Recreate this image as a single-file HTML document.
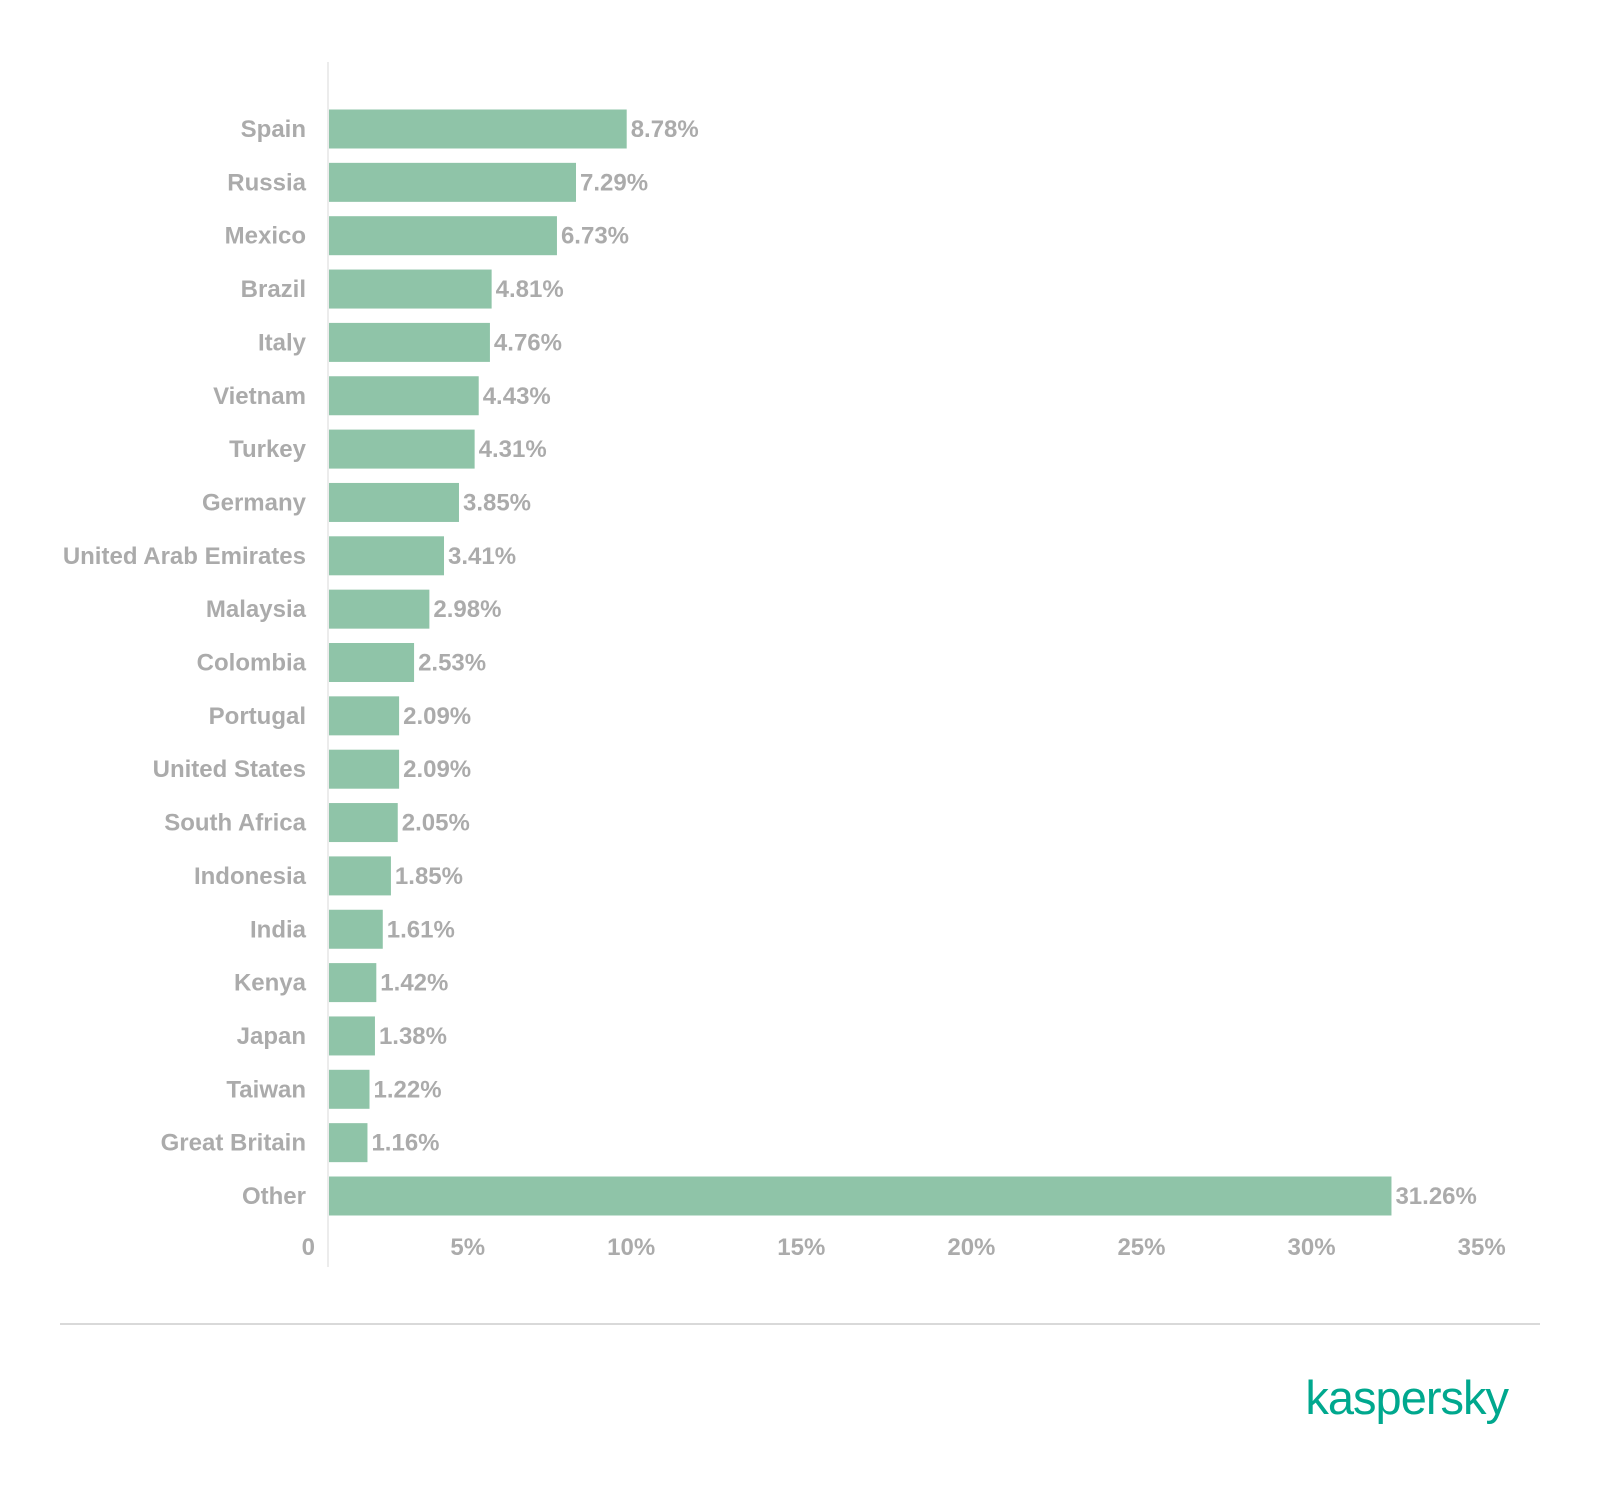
<!DOCTYPE html>
<html><head><meta charset="utf-8"><style>
html,body{margin:0;padding:0;background:#fff;}
svg{display:block;}
text{font-family:"Liberation Sans",sans-serif;}
</style></head><body>
<svg id="chart" width="1600" height="1486" viewBox="0 0 1600 1486" xmlns="http://www.w3.org/2000/svg">
<line x1="328" y1="62" x2="328" y2="1267" stroke="#ececec" stroke-width="2"/>
<g id="bars"></g>
<g id="xticks"></g>
<line x1="60" y1="1324" x2="1540" y2="1324" stroke="#d9d9d9" stroke-width="2"/>
<text x="1508" y="1414" text-anchor="end" font-size="47" fill="#00a88e" letter-spacing="-1">kaspersky</text>
</svg>
<script>
const categories = ["Spain","Russia","Mexico","Brazil","Italy","Vietnam","Turkey","Germany","United Arab Emirates","Malaysia","Colombia","Portugal","United States","South Africa","Indonesia","India","Kenya","Japan","Taiwan","Great Britain","Other"];
const values = [8.78,7.29,6.73,4.81,4.76,4.43,4.31,3.85,3.41,2.98,2.53,2.09,2.09,2.05,1.85,1.61,1.42,1.38,1.22,1.16,31.26];
const valueLabels = ["8.78%","7.29%","6.73%","4.81%","4.76%","4.43%","4.31%","3.85%","3.41%","2.98%","2.53%","2.09%","2.09%","2.05%","1.85%","1.61%","1.42%","1.38%","1.22%","1.16%","31.26%"];
const tickValues = [0,5,10,15,20,25,30,35];
const tickLabels = ["0","5%","10%","15%","20%","25%","30%","35%"];

const NS = "http://www.w3.org/2000/svg";
const x0 = 328, pxPer = 34.02;
function xScale(v){ return x0 + v * pxPer; }
const yFirst = 129, yStep = 53.35, barH = 39;
function yScale(i){ return yFirst + i * yStep; }
function mk(tag, attrs, parent){
  const el = document.createElementNS(NS, tag);
  for (const k in attrs) el.setAttribute(k, attrs[k]);
  parent.appendChild(el);
  return el;
}
const gb = document.getElementById("bars");
categories.forEach((c, i) => {
  const cy = yScale(i);
  const lab = mk("text", {x: 306, y: cy + 8, "text-anchor": "end", "font-size": 24, "font-weight": "bold", fill: "#ababab"}, gb);
  
  
  lab.textContent = c;
  const r = mk("rect", {x: x0 + 1, y: cy - barH / 2, width: xScale(values[i]) - x0 - 1, height: barH, fill: "#8fc4a8"}, gb);
  
  
  const vl = mk("text", {x: xScale(values[i]) + 4, y: cy + 8, "font-size": 24, "font-weight": "bold", fill: "#ababab"}, gb);
  
  
  vl.textContent = valueLabels[i];
});
const gt = document.getElementById("xticks");
tickValues.forEach((t, i) => {
  const tl = mk("text", {x: xScale(t) - 13, y: 1255, "text-anchor": "end", "font-size": 24, "font-weight": "bold", fill: "#ababab"}, gt);
  
  
  tl.textContent = tickLabels[i];
});
</script>
</body></html>
